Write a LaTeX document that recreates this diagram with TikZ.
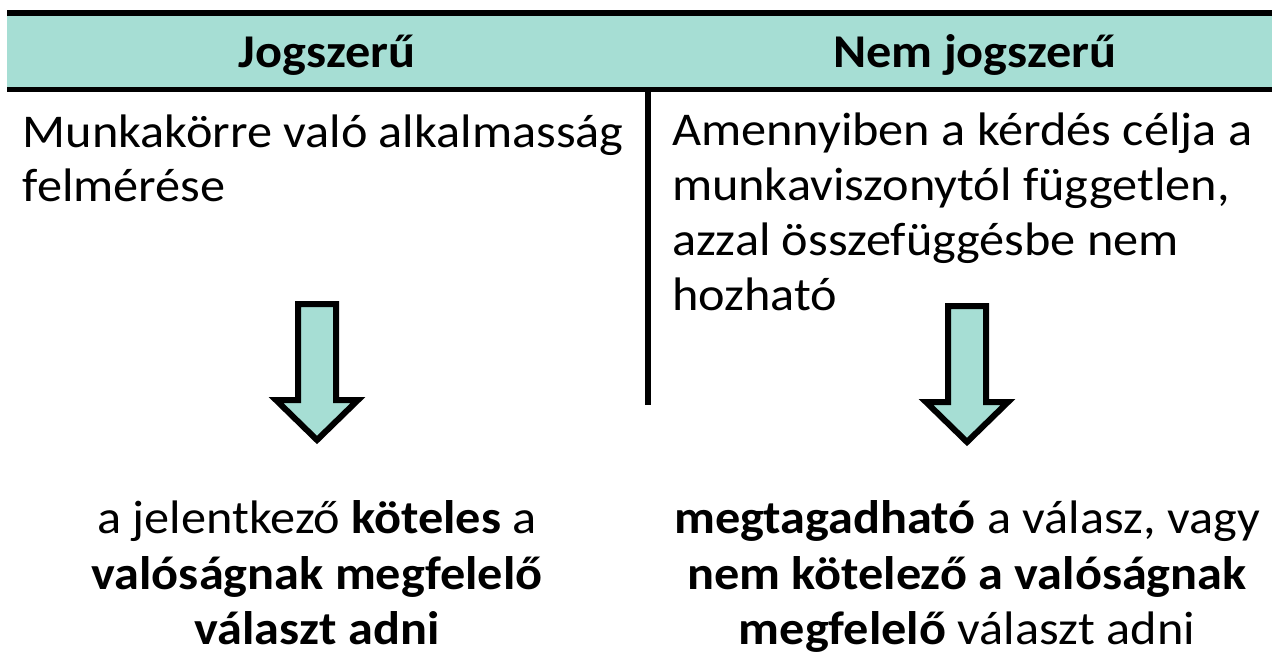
\documentclass[tikz,border=0pt]{standalone}
\usepackage{fontspec}
\setmainfont{Carlito}[FakeStretch=1.07]
\definecolor{teal1}{RGB}{166,222,212}
\begin{document}
\begin{tikzpicture}[x=1pt,y=-1pt,
  txt/.style={inner sep=0pt,outer sep=0pt,font=\fontsize{47}{55}\selectfont},
  hdr/.style={txt,font=\fontsize{47}{55}\selectfont\bfseries},
  rule/.style={draw=black,line width=6pt},
  downarrow/.style={draw=black,fill=teal1,line width=6pt,miter limit=10}]
\useasboundingbox (0,0) rectangle (1272,656);
% header band
\fill[teal1] (7,16) rectangle (1272,87);
\coordinate (tl) at (7,13);
\coordinate (tr) at (1272,13);
\coordinate (bl) at (7,89.5);
\coordinate (br) at (1272,89.5);
\draw[rule] (tl) -- (tr);
\draw[rule,line width=5pt] (bl) -- (br);
\coordinate (vt) at (648,92);
\coordinate (vb) at (648,405);
\draw[rule] (vt) -- (vb);
% headers
\node[hdr,anchor=base] (h1) at (327,67) {Jogszerű};
\node[hdr,anchor=base] (h2) at (975,67) {Nem jogszerű};
% left column
\node[txt,anchor=base west] (l1) at (23,147) {Munkakörre való alkalmasság};
\node[txt,anchor=base west] (l2) at (23,201) {felmérése};
% right column
\node[txt,anchor=base west] (r1) at (672,145) {Amennyiben a kérdés célja a};
\node[txt,anchor=base west] (r2) at (672,200) {munkaviszonytól független,};
\node[txt,anchor=base west] (r3) at (672,255) {azzal összefüggésbe nem};
\node[txt,anchor=base west] (r4) at (672,310) {hozható};
% arrows
\draw[downarrow] (298,304) -- (336,304) -- (336,400) -- (358,400) -- (317,440) -- (276,400) -- (298,400) -- cycle;
\draw[downarrow] (948,306) -- (986,306) -- (986,402) -- (1008,402) -- (967,442) -- (926,402) -- (948,402) -- cycle;
% bottom texts
\node[txt,anchor=base] (b1) at (317,533) {a jelentkező \textbf{köteles} a};
\node[txt,anchor=base] (b2) at (317,589) {\textbf{valóságnak megfelelő}};
\node[txt,anchor=base] (b3) at (317,644) {\textbf{választ adni}};
\node[txt,anchor=base] (c1) at (967,533) {\textbf{megtagadható} a válasz, vagy};
\node[txt,anchor=base] (c2) at (967,589) {\textbf{nem kötelező a valóságnak}};
\node[txt,anchor=base] (c3) at (967,644) {\textbf{megfelelő} választ adni};
\end{tikzpicture}
\end{document}
